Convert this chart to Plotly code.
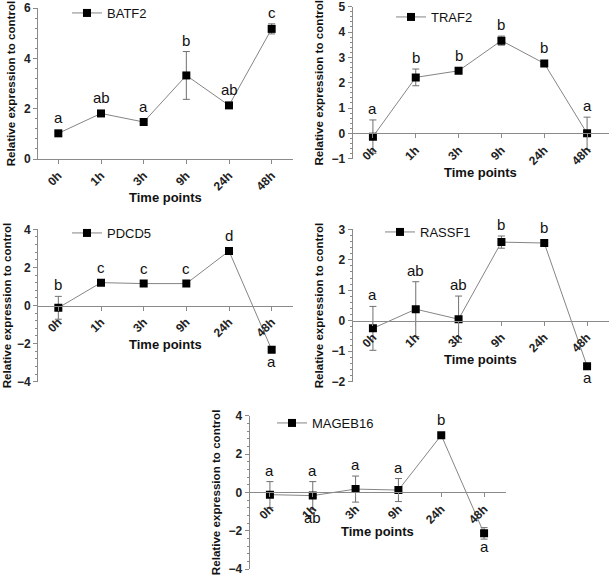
import plotly.graph_objects as go

times = ["0h", "1h", "3h", "9h", "24h", "48h"]

batf2 = [1.02, 1.81, 1.47, 3.32, 2.13, 5.17]
batf2_err = [0.05, 0.06, 0.06, 0.95, 0.06, 0.2]
batf2_top = ["a", "ab", "a", "b", "ab", "c"]
batf2_bot = ["", "", "", "", "", ""]

traf2 = [-0.13, 2.21, 2.47, 3.66, 2.76, 0.0]
traf2_err = [0.66, 0.33, 0.06, 0.18, 0.06, 0.64]
traf2_top = ["a", "b", "b", "b", "b", "a"]
traf2_bot = ["", "", "", "", "", ""]

pdcd5 = [-0.12, 1.2, 1.15, 1.15, 2.86, -2.32]
pdcd5_err = [0.6, 0.08, 0.06, 0.06, 0.1, 0.12]
pdcd5_top = ["b", "c", "c", "c", "d", ""]
pdcd5_bot = ["", "", "", "", "", "a"]

rassf1 = [-0.25, 0.38, 0.05, 2.58, 2.55, -1.49]
rassf1_err = [0.72, 0.9, 0.76, 0.2, 0.06, 0.05]
rassf1_top = ["a", "ab", "ab", "b", "b", ""]
rassf1_bot = ["", "", "", "", "", "a"]

mageb16 = [-0.12, -0.17, 0.17, 0.12, 2.98, -2.14]
mageb16_err = [0.68, 0.73, 0.68, 0.6, 0.08, 0.3]
mageb16_top = ["a", "a", "a", "a", "b", ""]
mageb16_bot = ["", "ab", "", "", "", "a"]

W, H = 609, 580
FONT = "Arial, Liberation Sans, sans-serif"
AX = "#8a8a8a"

# panel layout in pixels: left, right, top, bottom of plot area; y range; major tick
panels = [
    dict(name="BATF2", v=batf2, e=batf2_err, top=batf2_top, bot=batf2_bot,
         px=(37, 293, 8, 159), yr=(0, 6), dt=2, leg=(67, 13)),
    dict(name="TRAF2", v=traf2, e=traf2_err, top=traf2_top, bot=traf2_bot,
         px=(351.5, 608.5, 6.7, 158.7), yr=(-1, 5), dt=1, leg=(391, 17)),
    dict(name="PDCD5", v=pdcd5, e=pdcd5_err, top=pdcd5_top, bot=pdcd5_bot,
         px=(37, 293, 229.3, 381.7), yr=(-4, 4), dt=2, leg=(67, 233)),
    dict(name="RASSF1", v=rassf1, e=rassf1_err, top=rassf1_top, bot=rassf1_bot,
         px=(351.5, 608.5, 229.3, 381.7), yr=(-2, 3), dt=1, leg=(380, 232)),
    dict(name="MAGEB16", v=mageb16, e=mageb16_err, top=mageb16_top, bot=mageb16_bot,
         px=(248.5, 505.5, 415.7, 569), yr=(-4, 4), dt=2, leg=(272, 423)),
]

fig = go.Figure()
layout = dict(
    width=W, height=H, margin=dict(l=0, r=0, t=0, b=0, autoexpand=False),
    paper_bgcolor="white", plot_bgcolor="white", showlegend=True,
    font=dict(family=FONT, color="#111"),
)
annotations = []

for i, p in enumerate(panels, start=1):
    l, r, t, b = p["px"]
    y0, y1 = p["yr"]
    dom_y = [1 - b / H, 1 - t / H]
    zero_pos = dom_y[0] + (0 - y0) / (y1 - y0) * (dom_y[1] - dom_y[0])
    ppu = (b - t) / (y1 - y0)
    sfx = "" if i == 1 else str(i)
    leg = "legend" if i == 1 else f"legend{i}"

    fig.add_trace(go.Scatter(
        x=times, y=p["v"], name=p["name"], mode="lines+markers",
        xaxis="x" + sfx, yaxis="y" + sfx, legend=leg, showlegend=True,
        line=dict(color="#858585", width=1),
        marker=dict(symbol="square", size=8, color="black"),
        error_y=dict(type="data", array=p["e"], visible=True,
                     color="#707070", thickness=1, width=3.5),
    ))

    layout["xaxis" + sfx] = dict(
        domain=[l / W, r / W], anchor="free", position=zero_pos,
        type="category", range=[-0.5, 5.5],
        showline=True, linecolor=AX, linewidth=1,
        ticks="outside", ticklen=4, tickcolor=AX, tickangle=-45,
        ticklabeloverflow="allow",
        tickfont=dict(size=12, family=FONT, weight="bold", color="#222"),
        showgrid=False, zeroline=False,
    )
    layout["yaxis" + sfx] = dict(
        domain=dom_y, anchor="free", position=l / W, range=[y0, y1],
        dtick=p["dt"], tick0=0, ticklabeloverflow="allow",
        showline=True, linecolor=AX, linewidth=1,
        ticks="outside", ticklen=4, tickcolor=AX,
        minor=dict(ticks="outside", ticklen=2, dtick=p["dt"] / 5, tickcolor=AX),
        tickfont=dict(size=12, family=FONT, weight="bold", color="#222"),
        showgrid=False, zeroline=False,
        title=dict(text="Relative expression to control", standoff=4,
                   font=dict(size=11.6, family=FONT, weight="bold", color="#111")),
    )
    lx, ly = p["leg"]
    layout[leg] = dict(
        x=lx / W, y=1 - ly / H, xanchor="left", yanchor="middle",
        bgcolor="rgba(0,0,0,0)", itemwidth=30,
        font=dict(size=13, family=FONT, color="#111"),
    )
    # x-axis title placed a fixed distance below the zero line
    annotations.append(dict(
        x=0.5, xref=f"x{sfx} domain", y=zero_pos, yref="paper",
        yshift=-39, yanchor="middle", showarrow=False, text="Time points",
        font=dict(size=13, family=FONT, weight="bold", color="#111"),
    ))

    for k, cat in enumerate(times):
        v, e = p["v"][k], p["e"][k]
        extra = max(0.0, 4 - e * ppu)
        if p["top"][k]:
            annotations.append(dict(
                x=cat, y=v + e, xref="x" + sfx, yref="y" + sfx,
                text=p["top"][k], showarrow=False, yanchor="bottom",
                yshift=1 + extra, font=dict(size=15, family=FONT, color="#111"),
            ))
        if p["bot"][k]:
            annotations.append(dict(
                x=cat, y=v - e, xref="x" + sfx, yref="y" + sfx,
                text=p["bot"][k], showarrow=False, yanchor="top",
                yshift=3 - extra, font=dict(size=15, family=FONT, color="#111"),
            ))

layout["annotations"] = annotations
fig.update_layout(**layout)
fig.write_html(
    "out.html",
    config={"displayModeBar": False},
    post_script="document.body.style.margin='0';document.body.style.overflow='hidden';",
)
